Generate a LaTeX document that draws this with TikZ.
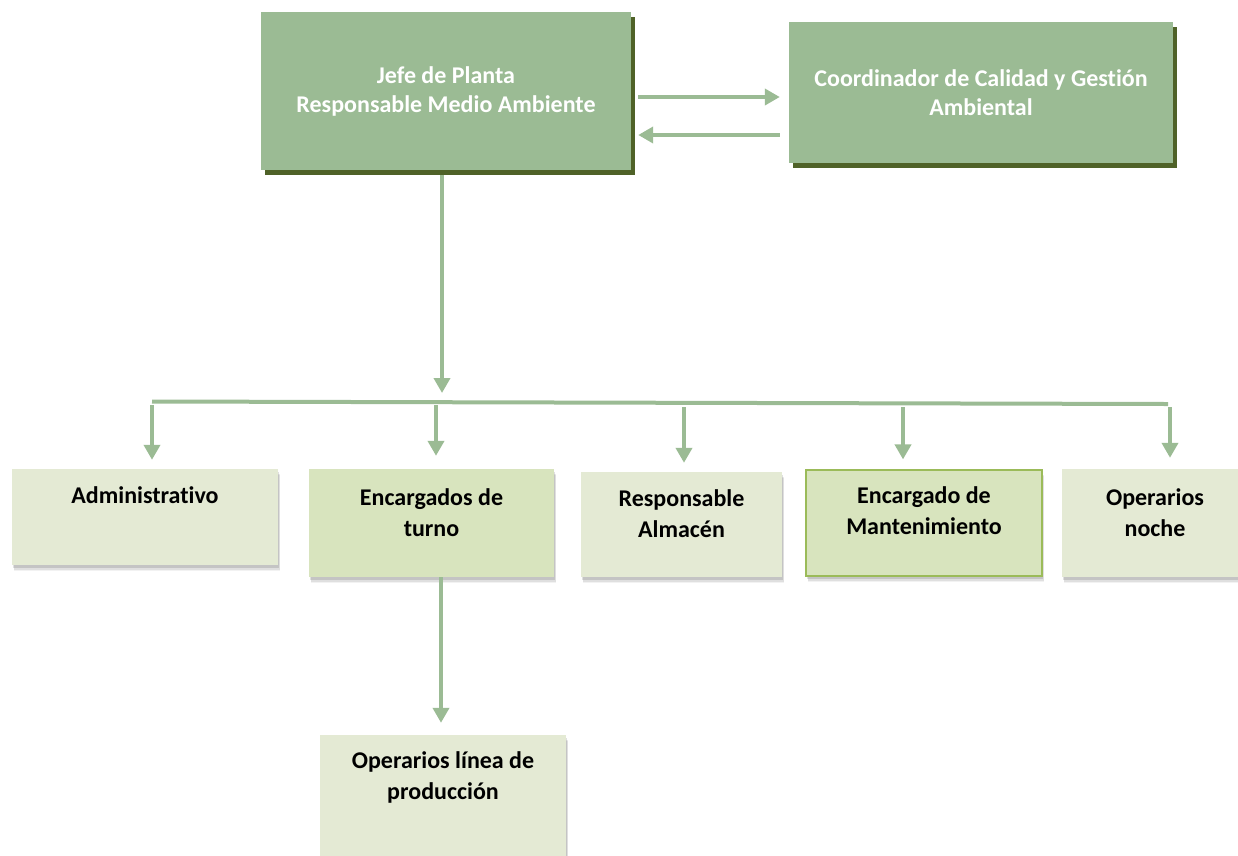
\documentclass[tikz,border=0pt]{standalone}
\usepackage{fontspec}
\setmainfont{Carlito}[Ligatures=NoCommon]
\usetikzlibrary{arrows.meta,shadows,calc}
\definecolor{dg}{RGB}{155,187,148}
\definecolor{sh}{RGB}{79,98,40}
\definecolor{lg}{RGB}{228,234,212}
\definecolor{mg}{RGB}{216,228,190}
\definecolor{bd}{RGB}{155,187,89}
\begin{document}
\begin{tikzpicture}[x=1pt,y=-1pt,
  ln/.style={draw=dg, line width=4pt},
  arr/.style={ln, -{Triangle[width=16pt,length=15pt]}},
  topbox/.style={fill=dg, draw=none, inner sep=0pt, text=white,
    font=\bfseries\fontsize{24}{29}\selectfont, align=center,
    drop shadow={shadow xshift=4pt, shadow yshift=-5pt, fill=sh, opacity=1}},
  lowbox/.style={fill=lg, draw=none, inner sep=0pt,
    drop shadow={shadow xshift=2pt, shadow yshift=-6pt, fill=black, opacity=0.05},
    drop shadow={shadow xshift=1.5pt, shadow yshift=-4.5pt, fill=black, opacity=0.08},
    drop shadow={shadow xshift=1pt, shadow yshift=-3pt, fill=black, opacity=0.12}},
  midbox/.style={lowbox, fill=mg},
  btxt/.style={inner sep=0pt, align=center, text=black,
    font=\bfseries\fontsize{24}{31}\selectfont}]
\useasboundingbox (0,0) rectangle (1238,855);

% top boxes
\node[topbox, minimum width=370pt, minimum height=158pt] (jefe) at (446,91)
  {Jefe de Planta\\Responsable Medio Ambiente};
\node[topbox, minimum width=384pt, minimum height=141pt] (coord) at (981,92.5)
  {Coordinador de Calidad y Gestión\\Ambiental};

% lower boxes
\node[lowbox, minimum width=266pt, minimum height=96pt] (adm) at (145,517) {};
\node[btxt] (admT) at (145,495) {Administrativo};
\node[midbox, minimum width=245pt, minimum height=108pt] (enc) at (431.5,523) {};
\node[btxt] (encT) at (431.5,512.5) {Encargados de\\turno};
\node[lowbox, minimum width=201pt, minimum height=105pt] (resp) at (681.5,524.5) {};
\node[btxt] (respT) at (681.5,514) {Responsable\\Almacén};
\node[midbox, draw=bd, line width=1.2pt, minimum width=236pt, minimum height=106pt] (mant) at (924,523) {};
\node[btxt] (mantT) at (924,511) {Encargado de\\Mantenimiento};
\node[lowbox, minimum width=186pt, minimum height=108pt] (noche) at (1155,523) {};
\node[btxt] (nocheT) at (1155,512.5) {Operarios\\noche};
\node[lowbox, minimum width=246pt, minimum height=140pt] (linea) at (443,805) {};
\node[btxt] (lineaT) at (443,777.5) {Operarios línea de\\producción};

% connectors between top boxes
\draw[arr] ($(jefe.east)+(7,6)$) -- ($(coord.west)+(-9,4.5)$);
\draw[arr] ($(coord.west)+(-9,42.5)$) -- ($(jefe.east)+(7,44)$);

% down to bus
\coordinate (jd) at (442,393);
\draw[arr] ($(jefe.south)+(-4,5)$) -- (jd);

% bus
\coordinate (bl) at (152,401.5);
\coordinate (br) at (1168,404);
\draw[ln] (bl) -- (br);

% branches
\coordinate (b1) at (152,405);
\coordinate (b2) at (436,405);
\coordinate (b3) at (684,407);
\coordinate (b4) at (903,407);
\coordinate (b5) at (1170,407);
\draw[arr, shorten >=9pt] (b1) -- (b1 |- adm.north);
\draw[arr, shorten >=13pt] (b2) -- (b2 |- enc.north);
\draw[arr, shorten >=9pt] (b3) -- (b3 |- resp.north);
\draw[arr, shorten >=10pt] (b4) -- (b4 |- mant.north);
\draw[arr, shorten >=11pt] (b5) -- (b5 |- noche.north);

% encargados -> operarios linea
\coordinate (ex) at (441,0);
\draw[arr, shorten >=12pt] (enc.south -| ex) -- (linea.north -| ex);
\end{tikzpicture}
\end{document}
